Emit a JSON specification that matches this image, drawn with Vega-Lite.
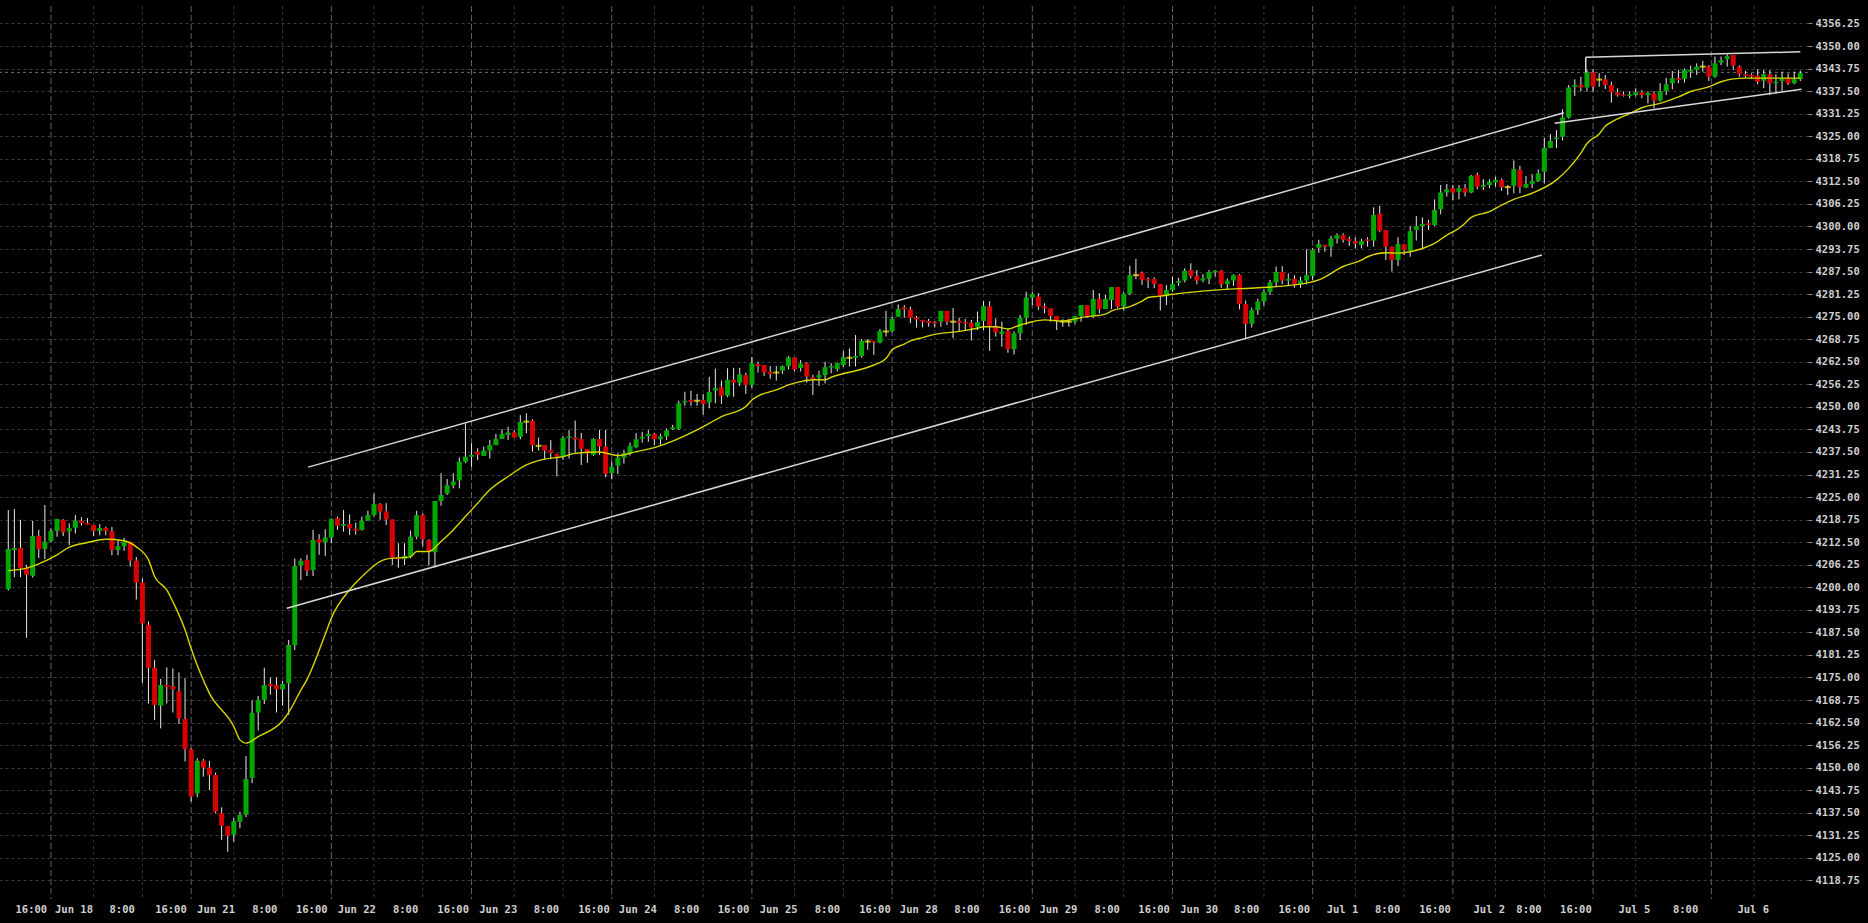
{
"$schema":"https://vega.github.io/schema/vega-lite/v6.json",
"width":1808,"height":893,
"autosize":{"type":"none"},
"padding":{"left":0,"top":6,"right":60,"bottom":24},
"background":"#000000",
"config":{"view":{"stroke":null},"axis":{"labelOverlap":false}},
"datasets":{
"candles":[
{"i":0,"o":4199.5,"h":4221.4,"l":4199.1,"c":4210.6},{"i":1,"o":4210.3,"h":4221.7,"l":4202.8,"c":4210.9},{"i":2,"o":4210.9,"h":4218.7,"l":4202.8,"c":4205.4},{"i":3,"o":4205.4,"h":4206.2,"l":4186.0,"c":4203.5},{"i":4,"o":4203.2,"h":4218.4,"l":4202.7,"c":4214.2},{"i":5,"o":4214.2,"h":4215.9,"l":4208.1,"c":4210.6},{"i":6,"o":4210.6,"h":4222.8,"l":4207.8,"c":4212.6},{"i":7,"o":4212.8,"h":4216.2,"l":4212.5,"c":4215.6},{"i":8,"o":4215.6,"h":4219.0,"l":4214.0,"c":4218.9},{"i":9,"o":4218.7,"h":4218.9,"l":4214.2,"c":4215.3},
{"i":10,"o":4215.5,"h":4217.7,"l":4211.7,"c":4216.4},{"i":11,"o":4216.5,"h":4220.0,"l":4214.9,"c":4218.4},{"i":12,"o":4218.4,"h":4219.4,"l":4217.1,"c":4217.8},{"i":13,"o":4217.8,"h":4219.2,"l":4217.4,"c":4217.4},{"i":14,"o":4217.3,"h":4217.3,"l":4214.2,"c":4215.6},{"i":15,"o":4215.6,"h":4217.5,"l":4214.4,"c":4216.4},{"i":16,"o":4216.4,"h":4216.8,"l":4214.4,"c":4215.6},{"i":17,"o":4215.6,"h":4216.7,"l":4208.9,"c":4210.3},{"i":18,"o":4210.3,"h":4213.1,"l":4208.9,"c":4211.4},{"i":19,"o":4211.4,"h":4213.7,"l":4210.1,"c":4212.6},
{"i":20,"o":4212.6,"h":4212.6,"l":4205.7,"c":4207.4},{"i":21,"o":4207.4,"h":4208.4,"l":4196.6,"c":4201.3},{"i":22,"o":4201.3,"h":4202.5,"l":4173.4,"c":4190.0},{"i":23,"o":4189.6,"h":4190.5,"l":4167.8,"c":4177.7},{"i":24,"o":4177.7,"h":4179.9,"l":4163.2,"c":4167.4},{"i":25,"o":4167.2,"h":4174.6,"l":4160.9,"c":4172.9},{"i":26,"o":4172.9,"h":4177.8,"l":4167.8,"c":4172.4},{"i":27,"o":4172.6,"h":4177.5,"l":4165.3,"c":4171.7},{"i":28,"o":4171.2,"h":4176.4,"l":4162.1,"c":4163.7},{"i":29,"o":4163.5,"h":4174.8,"l":4151.7,"c":4155.1},
{"i":30,"o":4155.1,"h":4155.4,"l":4140.6,"c":4142.0},{"i":31,"o":4142.9,"h":4152.6,"l":4141.8,"c":4151.9},{"i":32,"o":4151.9,"h":4152.4,"l":4147.5,"c":4150.0},{"i":33,"o":4150.0,"h":4151.9,"l":4143.8,"c":4148.0},{"i":34,"o":4148.0,"h":4148.6,"l":4137.4,"c":4137.8},{"i":35,"o":4137.4,"h":4139.0,"l":4130.0,"c":4133.9},{"i":36,"o":4133.8,"h":4133.8,"l":4126.7,"c":4131.2},{"i":37,"o":4131.4,"h":4136.0,"l":4129.5,"c":4135.2},{"i":38,"o":4135.0,"h":4137.8,"l":4133.2,"c":4136.9},{"i":39,"o":4136.9,"h":4153.2,"l":4136.3,"c":4146.9},
{"i":40,"o":4147.2,"h":4168.6,"l":4145.7,"c":4165.2},{"i":41,"o":4165.3,"h":4169.9,"l":4160.3,"c":4168.8},{"i":42,"o":4168.8,"h":4177.7,"l":4167.6,"c":4172.9},{"i":43,"o":4173.2,"h":4175.0,"l":4170.2,"c":4172.6},{"i":44,"o":4172.9,"h":4175.0,"l":4165.3,"c":4171.7},{"i":45,"o":4171.7,"h":4174.0,"l":4167.2,"c":4173.2},{"i":46,"o":4173.4,"h":4185.4,"l":4164.6,"c":4184.0},{"i":47,"o":4184.0,"h":4208.0,"l":4182.6,"c":4205.9},{"i":48,"o":4206.0,"h":4208.0,"l":4202.0,"c":4207.3},{"i":49,"o":4207.6,"h":4209.0,"l":4203.1,"c":4204.6},
{"i":50,"o":4204.8,"h":4215.9,"l":4203.1,"c":4213.1},{"i":51,"o":4213.3,"h":4214.7,"l":4209.0,"c":4212.4},{"i":52,"o":4212.4,"h":4216.1,"l":4208.7,"c":4213.8},{"i":53,"o":4213.8,"h":4219.1,"l":4212.2,"c":4218.9},{"i":54,"o":4219.1,"h":4219.6,"l":4215.9,"c":4217.1},{"i":55,"o":4217.0,"h":4221.4,"l":4215.4,"c":4217.5},{"i":56,"o":4217.5,"h":4220.2,"l":4214.5,"c":4216.3},{"i":57,"o":4216.2,"h":4217.9,"l":4214.6,"c":4215.7},{"i":58,"o":4215.9,"h":4219.6,"l":4215.7,"c":4218.4},{"i":59,"o":4218.4,"h":4221.2,"l":4218.4,"c":4220.0},
{"i":60,"o":4220.0,"h":4226.0,"l":4219.6,"c":4223.1},{"i":61,"o":4223.1,"h":4223.3,"l":4218.7,"c":4221.0},{"i":62,"o":4221.0,"h":4223.3,"l":4217.3,"c":4218.8},{"i":63,"o":4218.8,"h":4218.8,"l":4206.2,"c":4208.2},{"i":64,"o":4208.2,"h":4212.2,"l":4205.4,"c":4207.8},{"i":65,"o":4207.8,"h":4212.2,"l":4206.2,"c":4208.7},{"i":66,"o":4208.7,"h":4215.7,"l":4208.0,"c":4214.0},{"i":67,"o":4214.0,"h":4221.2,"l":4213.3,"c":4220.0},{"i":68,"o":4220.0,"h":4220.5,"l":4211.3,"c":4213.3},{"i":69,"o":4213.1,"h":4213.3,"l":4206.0,"c":4209.9},
{"i":70,"o":4209.7,"h":4223.9,"l":4205.5,"c":4223.9},{"i":71,"o":4223.9,"h":4231.6,"l":4222.6,"c":4225.6},{"i":72,"o":4226.0,"h":4230.0,"l":4225.6,"c":4228.3},{"i":73,"o":4228.3,"h":4231.6,"l":4227.4,"c":4229.3},{"i":74,"o":4229.6,"h":4236.0,"l":4227.4,"c":4234.8},{"i":75,"o":4234.8,"h":4245.4,"l":4234.4,"c":4236.2},{"i":76,"o":4236.2,"h":4239.9,"l":4233.4,"c":4236.7},{"i":77,"o":4237.6,"h":4238.5,"l":4235.3,"c":4236.7},{"i":78,"o":4236.4,"h":4239.0,"l":4236.4,"c":4237.9},{"i":79,"o":4237.9,"h":4240.8,"l":4235.7,"c":4239.4},
{"i":80,"o":4239.4,"h":4242.5,"l":4239.4,"c":4241.1},{"i":81,"o":4241.1,"h":4243.8,"l":4241.1,"c":4242.5},{"i":82,"o":4242.2,"h":4244.5,"l":4240.8,"c":4242.9},{"i":83,"o":4242.9,"h":4243.6,"l":4241.5,"c":4241.5},{"i":84,"o":4241.7,"h":4247.7,"l":4241.0,"c":4245.8},{"i":85,"o":4245.9,"h":4248.2,"l":4242.7,"c":4245.9},{"i":86,"o":4246.1,"h":4246.5,"l":4237.6,"c":4239.4},{"i":87,"o":4239.2,"h":4241.5,"l":4237.9,"c":4239.2},{"i":88,"o":4239.4,"h":4239.4,"l":4235.5,"c":4237.9},{"i":89,"o":4238.0,"h":4240.8,"l":4235.5,"c":4237.3},
{"i":90,"o":4236.9,"h":4237.1,"l":4230.7,"c":4236.2},{"i":91,"o":4236.2,"h":4241.9,"l":4235.3,"c":4241.4},{"i":92,"o":4241.4,"h":4243.6,"l":4235.7,"c":4241.8},{"i":93,"o":4241.5,"h":4246.2,"l":4237.3,"c":4241.0},{"i":94,"o":4241.1,"h":4242.8,"l":4233.9,"c":4238.4},{"i":95,"o":4238.3,"h":4238.3,"l":4234.5,"c":4237.1},{"i":96,"o":4236.7,"h":4241.3,"l":4236.4,"c":4241.1},{"i":97,"o":4241.1,"h":4243.6,"l":4236.7,"c":4239.0},{"i":98,"o":4239.0,"h":4243.6,"l":4230.5,"c":4231.4},{"i":99,"o":4231.6,"h":4234.8,"l":4230.0,"c":4233.4},
{"i":100,"o":4233.7,"h":4237.1,"l":4231.4,"c":4235.9},{"i":101,"o":4235.9,"h":4238.1,"l":4234.3,"c":4237.1},{"i":102,"o":4237.1,"h":4240.1,"l":4236.5,"c":4239.2},{"i":103,"o":4238.8,"h":4242.7,"l":4238.5,"c":4241.0},{"i":104,"o":4241.2,"h":4243.1,"l":4240.1,"c":4241.7},{"i":105,"o":4241.9,"h":4243.6,"l":4240.3,"c":4242.5},{"i":106,"o":4242.5,"h":4242.7,"l":4239.4,"c":4241.0},{"i":107,"o":4241.0,"h":4242.5,"l":4239.5,"c":4241.8},{"i":108,"o":4241.8,"h":4244.0,"l":4240.8,"c":4243.5},{"i":109,"o":4243.8,"h":4245.0,"l":4243.6,"c":4244.3},
{"i":110,"o":4243.9,"h":4251.7,"l":4243.6,"c":4251.0},{"i":111,"o":4251.2,"h":4254.2,"l":4250.3,"c":4251.6},{"i":112,"o":4251.9,"h":4254.5,"l":4250.3,"c":4251.4},{"i":113,"o":4251.7,"h":4253.6,"l":4250.3,"c":4251.7},{"i":114,"o":4251.9,"h":4253.6,"l":4247.8,"c":4250.8},{"i":115,"o":4251.2,"h":4258.3,"l":4249.6,"c":4254.1},{"i":116,"o":4254.5,"h":4260.6,"l":4251.0,"c":4255.2},{"i":117,"o":4255.4,"h":4257.3,"l":4250.8,"c":4253.1},{"i":118,"o":4253.1,"h":4260.7,"l":4252.7,"c":4257.5},{"i":119,"o":4257.5,"h":4260.8,"l":4252.8,"c":4256.7},
{"i":120,"o":4256.7,"h":4260.8,"l":4255.8,"c":4259.0},{"i":121,"o":4258.8,"h":4259.5,"l":4253.6,"c":4256.1},{"i":122,"o":4256.1,"h":4263.8,"l":4255.3,"c":4262.1},{"i":123,"o":4261.9,"h":4262.5,"l":4259.5,"c":4261.3},{"i":124,"o":4261.6,"h":4261.6,"l":4258.6,"c":4259.5},{"i":125,"o":4259.7,"h":4261.3,"l":4257.8,"c":4259.1},{"i":126,"o":4259.5,"h":4261.3,"l":4257.3,"c":4259.5},{"i":127,"o":4260.0,"h":4261.5,"l":4259.1,"c":4261.3},{"i":128,"o":4261.3,"h":4264.1,"l":4260.4,"c":4263.7},{"i":129,"o":4263.7,"h":4263.7,"l":4259.8,"c":4260.4},
{"i":130,"o":4260.8,"h":4263.0,"l":4259.8,"c":4262.0},{"i":131,"o":4262.1,"h":4262.4,"l":4256.7,"c":4258.4},{"i":132,"o":4258.2,"h":4258.9,"l":4253.3,"c":4257.7},{"i":133,"o":4258.1,"h":4260.0,"l":4255.8,"c":4258.8},{"i":134,"o":4258.8,"h":4262.5,"l":4256.5,"c":4261.0},{"i":135,"o":4260.9,"h":4262.1,"l":4259.3,"c":4261.3},{"i":136,"o":4260.5,"h":4262.3,"l":4259.8,"c":4262.1},{"i":137,"o":4261.6,"h":4265.5,"l":4261.0,"c":4263.8},{"i":138,"o":4263.6,"h":4266.2,"l":4261.2,"c":4263.6},{"i":139,"o":4263.6,"h":4269.9,"l":4261.2,"c":4264.1},
{"i":140,"o":4264.1,"h":4268.8,"l":4263.6,"c":4268.3},{"i":141,"o":4268.1,"h":4268.8,"l":4265.8,"c":4268.1},{"i":142,"o":4268.3,"h":4268.3,"l":4264.4,"c":4267.9},{"i":143,"o":4267.8,"h":4271.6,"l":4267.6,"c":4271.0},{"i":144,"o":4270.9,"h":4276.6,"l":4269.5,"c":4270.9},{"i":145,"o":4271.0,"h":4275.0,"l":4270.7,"c":4274.4},{"i":146,"o":4275.0,"h":4278.4,"l":4275.0,"c":4277.1},{"i":147,"o":4277.5,"h":4278.2,"l":4274.7,"c":4277.0},{"i":148,"o":4277.0,"h":4277.8,"l":4273.2,"c":4274.7},{"i":149,"o":4274.7,"h":4275.2,"l":4272.0,"c":4274.2},
{"i":150,"o":4274.1,"h":4274.1,"l":4272.0,"c":4273.6},{"i":151,"o":4273.8,"h":4274.4,"l":4272.2,"c":4273.3},{"i":152,"o":4273.5,"h":4273.8,"l":4272.0,"c":4273.1},{"i":153,"o":4273.6,"h":4276.6,"l":4272.2,"c":4276.6},{"i":154,"o":4276.6,"h":4276.6,"l":4272.7,"c":4273.6},{"i":155,"o":4273.6,"h":4277.4,"l":4269.0,"c":4273.6},{"i":156,"o":4273.8,"h":4274.7,"l":4271.0,"c":4273.3},{"i":157,"o":4273.5,"h":4274.4,"l":4271.3,"c":4273.1},{"i":158,"o":4273.3,"h":4274.1,"l":4268.4,"c":4272.0},{"i":159,"o":4272.1,"h":4276.4,"l":4271.3,"c":4273.5},
{"i":160,"o":4273.8,"h":4279.3,"l":4271.3,"c":4277.9},{"i":161,"o":4277.9,"h":4279.3,"l":4265.5,"c":4272.5},{"i":162,"o":4272.2,"h":4274.5,"l":4269.5,"c":4270.6},{"i":163,"o":4270.2,"h":4273.6,"l":4266.7,"c":4270.9},{"i":164,"o":4271.0,"h":4271.7,"l":4265.0,"c":4266.0},{"i":165,"o":4266.0,"h":4270.9,"l":4264.5,"c":4270.4},{"i":166,"o":4270.4,"h":4275.5,"l":4268.5,"c":4274.7},{"i":167,"o":4274.7,"h":4281.9,"l":4272.7,"c":4280.3},{"i":168,"o":4280.3,"h":4281.9,"l":4278.2,"c":4281.3},{"i":169,"o":4280.6,"h":4281.5,"l":4276.9,"c":4277.8},
{"i":170,"o":4277.8,"h":4278.7,"l":4275.9,"c":4277.3},{"i":171,"o":4277.3,"h":4277.3,"l":4273.6,"c":4275.2},{"i":172,"o":4275.2,"h":4275.2,"l":4271.3,"c":4274.1},{"i":173,"o":4273.6,"h":4274.3,"l":4272.2,"c":4273.6},{"i":174,"o":4273.6,"h":4274.3,"l":4272.2,"c":4273.6},{"i":175,"o":4273.6,"h":4275.2,"l":4272.9,"c":4275.2},{"i":176,"o":4275.2,"h":4278.2,"l":4273.6,"c":4278.2},{"i":177,"o":4278.2,"h":4278.2,"l":4274.7,"c":4275.2},{"i":178,"o":4275.2,"h":4282.4,"l":4274.7,"c":4279.9},{"i":179,"o":4279.9,"h":4281.5,"l":4275.9,"c":4277.1},
{"i":180,"o":4277.1,"h":4281.0,"l":4277.1,"c":4279.9},{"i":181,"o":4279.6,"h":4283.2,"l":4277.1,"c":4283.2},{"i":182,"o":4283.2,"h":4283.2,"l":4277.3,"c":4277.8},{"i":183,"o":4277.8,"h":4281.9,"l":4276.6,"c":4281.3},{"i":184,"o":4281.3,"h":4289.1,"l":4281.0,"c":4286.5},{"i":185,"o":4286.5,"h":4291.0,"l":4285.4,"c":4286.5},{"i":186,"o":4287.2,"h":4287.5,"l":4283.8,"c":4285.2},{"i":187,"o":4285.4,"h":4285.9,"l":4282.9,"c":4285.0},{"i":188,"o":4285.4,"h":4285.9,"l":4282.9,"c":4284.0},{"i":189,"o":4284.0,"h":4284.0,"l":4276.7,"c":4280.7},
{"i":190,"o":4280.7,"h":4283.8,"l":4278.2,"c":4282.4},{"i":191,"o":4282.4,"h":4286.1,"l":4281.9,"c":4284.0},{"i":192,"o":4284.4,"h":4285.8,"l":4283.5,"c":4284.9},{"i":193,"o":4285.0,"h":4288.4,"l":4284.5,"c":4287.7},{"i":194,"o":4287.9,"h":4289.8,"l":4285.6,"c":4286.3},{"i":195,"o":4286.3,"h":4287.9,"l":4284.0,"c":4285.0},{"i":196,"o":4285.0,"h":4286.8,"l":4284.5,"c":4285.6},{"i":197,"o":4285.5,"h":4287.9,"l":4284.0,"c":4287.4},{"i":198,"o":4287.3,"h":4287.9,"l":4286.1,"c":4287.7},{"i":199,"o":4287.7,"h":4287.9,"l":4283.0,"c":4284.0},
{"i":200,"o":4284.0,"h":4285.6,"l":4282.5,"c":4285.0},{"i":201,"o":4285.0,"h":4286.7,"l":4283.5,"c":4286.5},{"i":202,"o":4286.5,"h":4286.8,"l":4277.0,"c":4278.5},{"i":203,"o":4278.5,"h":4279.5,"l":4268.7,"c":4273.0},{"i":204,"o":4273.0,"h":4277.5,"l":4272.0,"c":4276.8},{"i":205,"o":4276.8,"h":4280.0,"l":4275.5,"c":4279.2},{"i":206,"o":4279.2,"h":4282.5,"l":4278.0,"c":4281.8},{"i":207,"o":4281.8,"h":4285.2,"l":4281.0,"c":4284.5},{"i":208,"o":4284.5,"h":4288.9,"l":4283.5,"c":4287.4},{"i":209,"o":4287.4,"h":4289.0,"l":4284.0,"c":4285.0},
{"i":210,"o":4285.0,"h":4287.0,"l":4283.5,"c":4285.5},{"i":211,"o":4285.5,"h":4286.5,"l":4283.0,"c":4284.0},{"i":212,"o":4284.0,"h":4286.1,"l":4283.0,"c":4285.0},{"i":213,"o":4285.0,"h":4293.7,"l":4284.0,"c":4286.5},{"i":214,"o":4286.3,"h":4294.0,"l":4285.2,"c":4293.5},{"i":215,"o":4294.1,"h":4296.3,"l":4292.7,"c":4295.1},{"i":216,"o":4294.9,"h":4294.9,"l":4293.0,"c":4294.4},{"i":217,"o":4294.4,"h":4297.4,"l":4291.6,"c":4296.7},{"i":218,"o":4296.6,"h":4298.1,"l":4295.3,"c":4297.6},{"i":219,"o":4297.6,"h":4298.1,"l":4295.5,"c":4296.3},
{"i":220,"o":4296.5,"h":4297.2,"l":4294.6,"c":4296.0},{"i":221,"o":4296.0,"h":4297.0,"l":4293.9,"c":4295.3},{"i":222,"o":4294.9,"h":4296.6,"l":4293.9,"c":4296.0},{"i":223,"o":4296.4,"h":4297.0,"l":4294.4,"c":4296.0},{"i":224,"o":4296.1,"h":4305.3,"l":4294.4,"c":4303.2},{"i":225,"o":4303.5,"h":4305.7,"l":4298.4,"c":4298.8},{"i":226,"o":4299.0,"h":4299.0,"l":4290.7,"c":4294.4},{"i":227,"o":4294.4,"h":4294.4,"l":4287.5,"c":4290.7},{"i":228,"o":4290.7,"h":4297.0,"l":4289.0,"c":4295.1},{"i":229,"o":4295.1,"h":4295.1,"l":4292.1,"c":4293.5},
{"i":230,"o":4293.3,"h":4300.1,"l":4291.6,"c":4298.7},{"i":231,"o":4299.0,"h":4302.9,"l":4296.1,"c":4300.1},{"i":232,"o":4300.1,"h":4302.5,"l":4293.9,"c":4300.7},{"i":233,"o":4300.9,"h":4301.8,"l":4299.0,"c":4300.4},{"i":234,"o":4300.4,"h":4307.5,"l":4300.1,"c":4304.6},{"i":235,"o":4304.8,"h":4311.5,"l":4303.4,"c":4309.4},{"i":236,"o":4309.4,"h":4311.8,"l":4308.3,"c":4310.3},{"i":237,"o":4310.6,"h":4311.5,"l":4307.3,"c":4309.4},{"i":238,"o":4309.6,"h":4311.5,"l":4307.5,"c":4310.6},{"i":239,"o":4310.6,"h":4311.8,"l":4308.3,"c":4309.4},
{"i":240,"o":4309.4,"h":4314.3,"l":4309.2,"c":4314.0},{"i":241,"o":4314.3,"h":4314.9,"l":4310.3,"c":4311.0},{"i":242,"o":4311.0,"h":4313.1,"l":4310.1,"c":4311.5},{"i":243,"o":4311.5,"h":4313.1,"l":4310.6,"c":4312.4},{"i":244,"o":4312.2,"h":4313.8,"l":4311.0,"c":4312.9},{"i":245,"o":4312.9,"h":4313.3,"l":4309.9,"c":4310.9},{"i":246,"o":4310.9,"h":4311.5,"l":4308.7,"c":4310.9},{"i":247,"o":4311.3,"h":4318.3,"l":4309.2,"c":4315.9},{"i":248,"o":4315.7,"h":4316.8,"l":4309.2,"c":4310.9},{"i":249,"o":4310.8,"h":4314.0,"l":4310.6,"c":4311.8},
{"i":250,"o":4311.8,"h":4314.5,"l":4310.6,"c":4312.6},{"i":251,"o":4312.6,"h":4315.8,"l":4312.4,"c":4314.7},{"i":252,"o":4315.2,"h":4324.6,"l":4311.9,"c":4321.8},{"i":253,"o":4321.8,"h":4325.6,"l":4321.7,"c":4323.7},{"i":254,"o":4324.2,"h":4326.7,"l":4321.7,"c":4324.6},{"i":255,"o":4324.9,"h":4332.5,"l":4323.8,"c":4330.2},{"i":256,"o":4330.2,"h":4339.2,"l":4329.9,"c":4338.5},{"i":257,"o":4338.7,"h":4340.8,"l":4336.2,"c":4339.2},{"i":258,"o":4339.2,"h":4341.5,"l":4337.4,"c":4338.5},{"i":259,"o":4338.5,"h":4343.5,"l":4337.4,"c":4342.7},
{"i":260,"o":4342.7,"h":4343.6,"l":4337.4,"c":4338.8},{"i":261,"o":4340.7,"h":4342.5,"l":4338.7,"c":4340.7},{"i":262,"o":4340.8,"h":4342.0,"l":4338.1,"c":4339.2},{"i":263,"o":4339.2,"h":4340.1,"l":4334.3,"c":4337.2},{"i":264,"o":4337.1,"h":4338.3,"l":4336.0,"c":4336.4},{"i":265,"o":4336.6,"h":4337.4,"l":4336.0,"c":4336.2},{"i":266,"o":4336.2,"h":4337.5,"l":4335.5,"c":4336.6},{"i":267,"o":4336.4,"h":4338.3,"l":4336.0,"c":4337.2},{"i":268,"o":4337.2,"h":4337.8,"l":4335.5,"c":4336.4},{"i":269,"o":4336.4,"h":4337.4,"l":4334.1,"c":4337.0},
{"i":270,"o":4336.9,"h":4337.5,"l":4332.7,"c":4334.9},{"i":271,"o":4334.9,"h":4339.7,"l":4334.6,"c":4337.5},{"i":272,"o":4337.5,"h":4341.2,"l":4336.4,"c":4339.4},{"i":273,"o":4339.7,"h":4343.1,"l":4338.0,"c":4341.1},{"i":274,"o":4341.1,"h":4343.4,"l":4339.7,"c":4340.6},{"i":275,"o":4340.9,"h":4343.8,"l":4339.9,"c":4343.4},{"i":276,"o":4342.9,"h":4344.6,"l":4341.2,"c":4343.4},{"i":277,"o":4343.4,"h":4345.2,"l":4342.0,"c":4344.3},{"i":278,"o":4344.3,"h":4345.9,"l":4342.9,"c":4344.3},{"i":279,"o":4344.3,"h":4344.7,"l":4340.3,"c":4341.5},
{"i":280,"o":4341.5,"h":4347.1,"l":4341.2,"c":4345.2},{"i":281,"o":4345.4,"h":4347.1,"l":4344.7,"c":4346.1},{"i":282,"o":4346.4,"h":4347.7,"l":4344.3,"c":4347.2},{"i":283,"o":4347.5,"h":4347.5,"l":4343.4,"c":4344.6},{"i":284,"o":4344.3,"h":4344.7,"l":4341.5,"c":4342.2},{"i":285,"o":4342.2,"h":4343.1,"l":4341.2,"c":4341.8},{"i":286,"o":4342.0,"h":4342.4,"l":4340.9,"c":4341.5},{"i":287,"o":4341.8,"h":4343.6,"l":4339.4,"c":4340.1},{"i":288,"o":4340.4,"h":4343.4,"l":4338.3,"c":4342.2},{"i":289,"o":4342.2,"h":4343.4,"l":4336.4,"c":4339.7},
{"i":290,"o":4339.7,"h":4342.2,"l":4336.9,"c":4340.1},{"i":291,"o":4340.3,"h":4342.9,"l":4337.5,"c":4341.1},{"i":292,"o":4341.1,"h":4342.4,"l":4339.2,"c":4339.7},{"i":293,"o":4339.7,"h":4342.9,"l":4339.4,"c":4340.8},{"i":294,"o":4340.8,"h":4343.2,"l":4340.3,"c":4342.5}
],
"ma":[
{"i":0,"v":4204.6},{"i":3,"v":4205.3},{"i":5,"v":4206.5},{"i":8,"v":4209.0},{"i":10,"v":4211.1},{"i":13,"v":4212.4},{"i":16,"v":4213.3},{"i":19,"v":4212.9},{"i":21,"v":4211.2},{"i":23,"v":4207.6},{"i":24,"v":4203.0},{"i":26,"v":4199.3},{"i":27,"v":4196.0},{"i":29,"v":4188.2},{"i":30,"v":4183.0},{"i":33,"v":4170.6},{"i":37,"v":4161.4},{"i":38,"v":4157.7},{"i":39,"v":4156.8},{"i":41,"v":4158.6},{"i":45,"v":4163.0},{"i":46,"v":4165.3},{"i":48,"v":4171.5},{"i":49,"v":4174.4},{"i":52,"v":4187.0},{"i":53,"v":4191.5},{"i":56,"v":4199.3},{"i":58,"v":4202.9},{"i":62,"v":4207.8},{"i":66,"v":4208.5},{"i":67,"v":4209.9},{"i":69,"v":4209.9},{"i":71,"v":4212.7},{"i":73,"v":4215.9},{"i":75,"v":4219.6},{"i":77,"v":4223.3},{"i":79,"v":4227.0},{"i":82,"v":4230.7},{"i":85,"v":4233.9},{"i":88,"v":4235.5},{"i":91,"v":4236.2},{"i":93,"v":4237.1},{"i":97,"v":4237.5},{"i":100,"v":4236.5},{"i":103,"v":4237.6},{"i":106,"v":4238.7},{"i":113,"v":4243.6},{"i":115,"v":4245.4},{"i":117,"v":4247.3},{"i":120,"v":4249.1},{"i":121,"v":4250.1},{"i":122,"v":4251.9},{"i":123,"v":4253.0},{"i":125,"v":4254.2},{"i":126,"v":4254.7},{"i":128,"v":4256.1},{"i":130,"v":4257.0},{"i":132,"v":4257.5},{"i":134,"v":4257.5},{"i":135,"v":4258.2},{"i":142,"v":4261.6},{"i":144,"v":4263.4},{"i":145,"v":4265.8},{"i":147,"v":4267.4},{"i":148,"v":4268.3},{"i":150,"v":4269.2},{"i":152,"v":4270.1},{"i":155,"v":4270.7},{"i":157,"v":4271.2},{"i":159,"v":4271.8},{"i":160,"v":4272.2},{"i":162,"v":4272.2},{"i":164,"v":4271.6},{"i":166,"v":4272.7},{"i":168,"v":4273.6},{"i":170,"v":4274.1},{"i":173,"v":4273.8},{"i":175,"v":4274.4},{"i":177,"v":4275.0},{"i":180,"v":4275.7},{"i":181,"v":4276.6},{"i":184,"v":4277.8},{"i":186,"v":4279.3},{"i":187,"v":4280.3},{"i":189,"v":4280.7},{"i":191,"v":4281.2},{"i":193,"v":4281.6},{"i":199,"v":4282.5},{"i":205,"v":4283.0},{"i":212,"v":4284.0},{"i":215,"v":4285.2},{"i":219,"v":4288.9},{"i":222,"v":4290.7},{"i":223,"v":4291.6},{"i":226,"v":4292.7},{"i":228,"v":4292.6},{"i":230,"v":4293.0},{"i":232,"v":4293.9},{"i":234,"v":4295.3},{"i":236,"v":4297.6},{"i":238,"v":4299.5},{"i":239,"v":4300.9},{"i":240,"v":4302.5},{"i":243,"v":4304.1},{"i":245,"v":4305.9},{"i":247,"v":4307.5},{"i":250,"v":4309.2},{"i":254,"v":4312.9},{"i":256,"v":4316.1},{"i":258,"v":4320.3},{"i":259,"v":4323.0},{"i":261,"v":4325.6},{"i":262,"v":4327.8},{"i":263,"v":4328.9},{"i":266,"v":4331.3},{"i":268,"v":4332.9},{"i":271,"v":4334.1},{"i":274,"v":4335.9},{"i":276,"v":4337.4},{"i":279,"v":4338.7},{"i":281,"v":4340.1},{"i":283,"v":4340.9},{"i":285,"v":4341.1},{"i":294,"v":4341.1}
],
"lines":[
{"i":49.2,"i2":255.2,"p":4233.3,"p2":4331.5},
{"i":45.7,"i2":251.6,"p":4194.2,"p2":4292.1},
{"i":253.7,"i2":294.2,"p":4328.6,"p2":4338.0},
{"i":258.8,"i2":294.0,"p":4346.9,"p2":4348.4},
{"i":258.8,"i2":258.8,"p":4346.9,"p2":4342.7}
],
"grid":[
{"i":7,"day":true},{"i":14,"day":false},{"i":22,"day":false},{"i":30,"day":true},{"i":37,"day":false},{"i":45,"day":false},{"i":53,"day":true},{"i":60,"day":false},{"i":68,"day":false},{"i":76,"day":true},{"i":83,"day":false},{"i":91,"day":false},{"i":99,"day":true},{"i":106,"day":false},{"i":114,"day":false},{"i":122,"day":true},{"i":129,"day":false},{"i":137,"day":false},{"i":145,"day":true},{"i":152,"day":false},{"i":160,"day":false},{"i":168,"day":true},{"i":175,"day":false},{"i":183,"day":false},{"i":191,"day":true},{"i":198,"day":false},{"i":206,"day":false},{"i":214,"day":true},{"i":221,"day":false},{"i":229,"day":false},{"i":237,"day":true},{"i":244,"day":false},{"i":252,"day":false},{"i":260,"day":true},{"i":267,"day":false},{"i":279.4,"day":true},{"i":286.4,"day":false}
],
"price":[{"p":4342.7}]
},
"layer":[
{"data":{"name":"grid"},"mark":{"type":"rule","strokeWidth":1},
 "encoding":{
  "x":{"field":"i","type":"quantitative","scale":{"domain":[-0.54,294.44],"nice":false,"zero":false},
   "axis":{"orient":"bottom","title":null,"tickCount":200,"grid":false,"domain":false,"ticks":false,
    "values":[3.7,10.7,18.6,26.6,34,42,49.7,57.1,65.1,72.9,80.3,88.2,96,103.2,111.2,118.9,126.3,134.3,142.1,149.3,157.2,165,172.2,180.2,187.9,195.3,203.1,210.9,218.8,226.2,234,242.9,249.4,257.1,266.7,275.1,286.2],
    "labelExpr":"{'3.7':'16:00','10.7':'Jun 18','18.6':'8:00','26.6':'16:00','34':'Jun 21','42':'8:00','49.7':'16:00','57.1':'Jun 22','65.1':'8:00','72.9':'16:00','80.3':'Jun 23','88.2':'8:00','96':'16:00','103.2':'Jun 24','111.2':'8:00','118.9':'16:00','126.3':'Jun 25','134.3':'8:00','142.1':'16:00','149.3':'Jun 28','157.2':'8:00','165':'16:00','172.2':'Jun 29','180.2':'8:00','187.9':'16:00','195.3':'Jun 30','203.1':'8:00','210.9':'16:00','218.8':'Jul 1','226.2':'8:00','234':'16:00','242.9':'Jul 2','249.4':'8:00','257.1':'16:00','266.7':'Jul 5','275.1':'8:00','286.2':'Jul 6'}[datum.value]",
    "labelAlign":"center","labelPadding":5,"labelFont":"DejaVu Sans Mono","labelFontWeight":"bold","labelFontSize":10.5,"labelColor":"#d0d0d0","labelOverlap":false,"labelBound":false,"labelFlush":false}},
  "color":{"condition":{"test":"datum.day","value":"#606060"},"value":"#3a3a3a"},
  "strokeDash":{"condition":{"test":"datum.day","value":[6,3]},"value":[3,3]}}},
{"data":{"name":"price"},"mark":{"type":"rule","color":"#707070","strokeDash":[3,3],"strokeWidth":1},
 "encoding":{"y":{"field":"p","type":"quantitative","scale":{"domain":[4113.6,4361.1],"nice":false,"zero":false},
  "axis":{"orient":"right","tickCount":200,"values":[4118.75,4125,4131.25,4137.5,4143.75,4150,4156.25,4162.5,4168.75,4175,4181.25,4187.5,4193.75,4200,4206.25,4212.5,4218.75,4225,4231.25,4237.5,4243.75,4250,4256.25,4262.5,4268.75,4275,4281.25,4287.5,4293.75,4300,4306.25,4312.5,4318.75,4325,4331.25,4337.5,4343.75,4350,4356.25],
   "format":".2f","title":null,"grid":true,"gridColor":"#3a3a3a","gridDash":[3,3],"gridWidth":1,"domain":false,"tickSize":4,"tickColor":"#8a8a8a",
   "labelFont":"DejaVu Sans Mono","labelFontWeight":"bold","labelFontSize":10.5,"labelColor":"#d0d0d0","labelPadding":3,"labelOverlap":false,"labelBound":false}}}},
{"data":{"name":"candles"},"mark":{"type":"rule","color":"#e8e8e8","strokeWidth":1},
 "encoding":{
  "x":{"field":"i","type":"quantitative","scale":{"domain":[-0.54,294.44],"nice":false,"zero":false}},
  "y":{"field":"l","type":"quantitative","scale":{"domain":[4113.6,4361.1],"nice":false,"zero":false}},
  "y2":{"field":"h"}}},
{"data":{"name":"candles"},"transform":[{"filter":"datum.c != datum.o"}],"mark":{"type":"bar","width":5},
 "encoding":{
  "x":{"field":"i","type":"quantitative","scale":{"domain":[-0.54,294.44],"nice":false,"zero":false}},
  "y":{"field":"o","type":"quantitative","scale":{"domain":[4113.6,4361.1],"nice":false,"zero":false}},
  "y2":{"field":"c"},
  "color":{"condition":{"test":"datum.c > datum.o","value":"#00a800"},"value":"#d80000"}}},
{"data":{"name":"candles"},"transform":[{"filter":"datum.c == datum.o"}],"mark":{"type":"tick","orient":"horizontal","size":6,"thickness":2,"color":"#ffff00"},
 "encoding":{
  "x":{"field":"i","type":"quantitative","scale":{"domain":[-0.54,294.44],"nice":false,"zero":false}},
  "y":{"field":"c","type":"quantitative","scale":{"domain":[4113.6,4361.1],"nice":false,"zero":false}}}},
{"data":{"name":"ma"},"mark":{"type":"line","color":"#d6d600","strokeWidth":1.4,"interpolate":"monotone"},
 "encoding":{
  "x":{"field":"i","type":"quantitative","scale":{"domain":[-0.54,294.44],"nice":false,"zero":false}},
  "y":{"field":"v","type":"quantitative","scale":{"domain":[4113.6,4361.1],"nice":false,"zero":false}}}},
{"data":{"name":"lines"},"mark":{"type":"rule","color":"#d8d8d8","strokeWidth":1.5},
 "encoding":{
  "x":{"field":"i","type":"quantitative","scale":{"domain":[-0.54,294.44],"nice":false,"zero":false}},
  "x2":{"field":"i2"},
  "y":{"field":"p","type":"quantitative","scale":{"domain":[4113.6,4361.1],"nice":false,"zero":false}},
  "y2":{"field":"p2"}}},
{"mark":{"type":"rule","color":"#8a8a8a","strokeWidth":1},"encoding":{"y":{"datum":4361.1,"type":"quantitative","scale":{"domain":[4113.6,4361.1],"nice":false,"zero":false}}}},
{"mark":{"type":"rule","color":"#8a8a8a","strokeWidth":1},"encoding":{"y":{"datum":4113.6,"type":"quantitative","scale":{"domain":[4113.6,4361.1],"nice":false,"zero":false}}}},
{"mark":{"type":"rule","color":"#8a8a8a","strokeWidth":1},"encoding":{"x":{"datum":294.44,"type":"quantitative","scale":{"domain":[-0.54,294.44],"nice":false,"zero":false}}}}
]
}
